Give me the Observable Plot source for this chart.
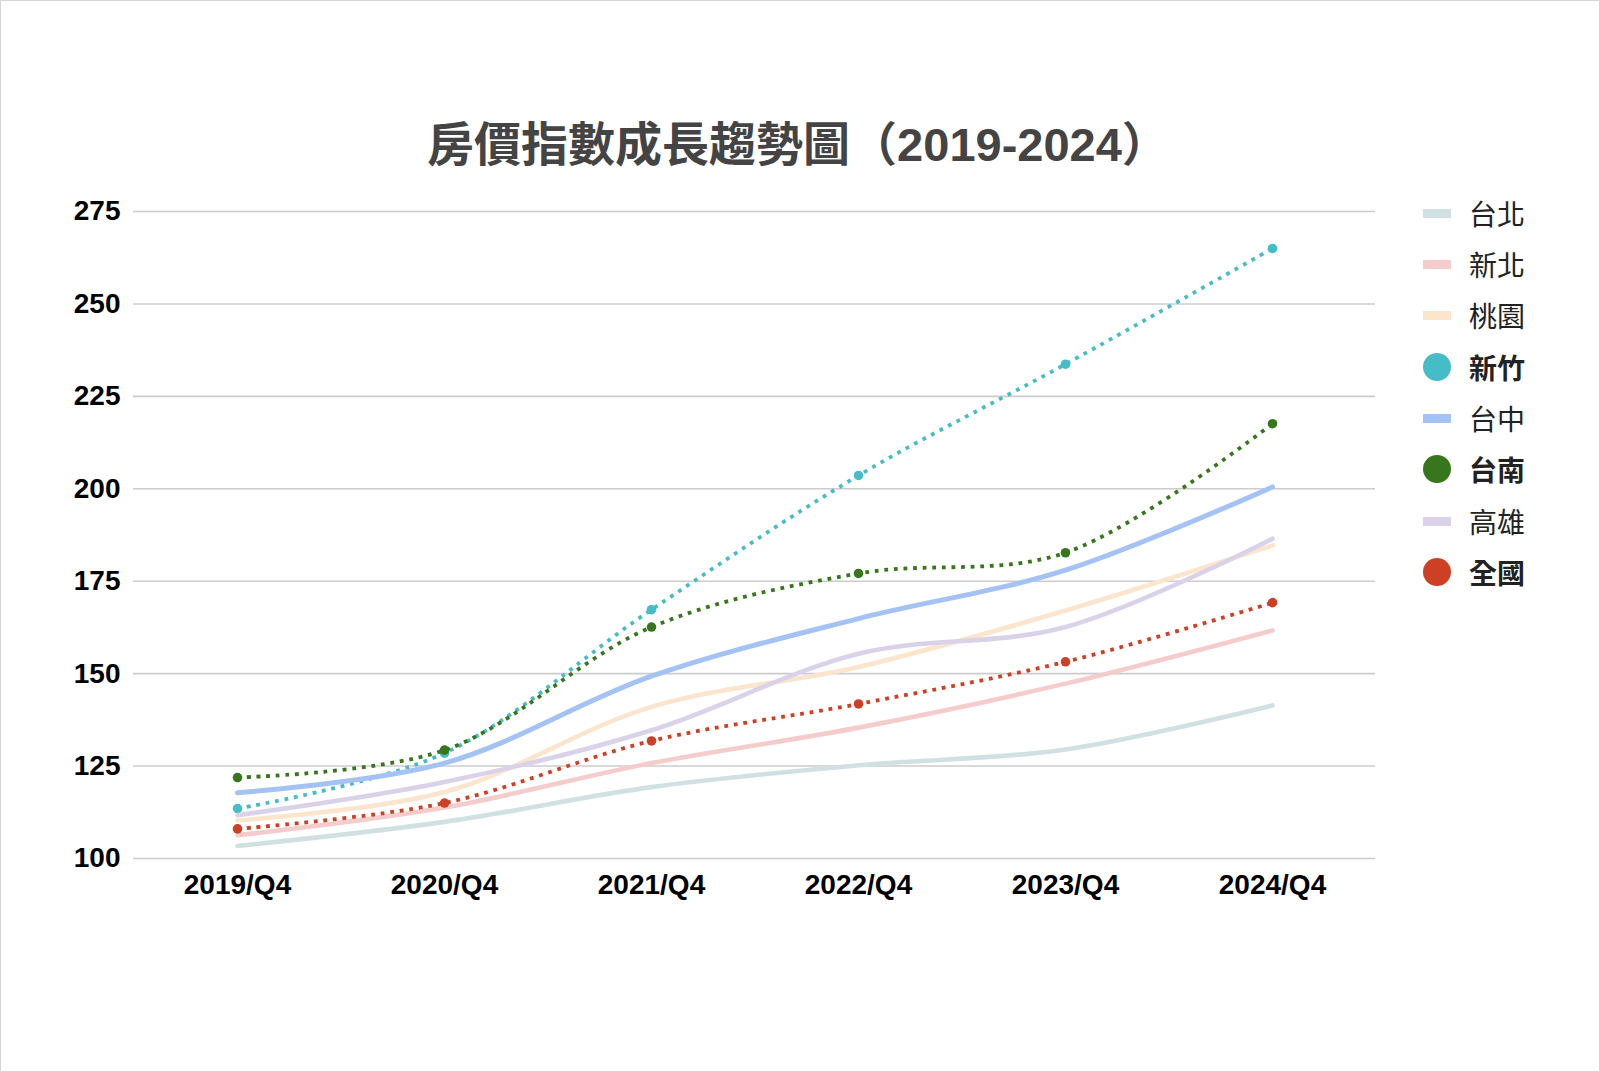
<!DOCTYPE html>
<html><head><meta charset="utf-8">
<script src="https://cdn.jsdelivr.net/npm/d3@7"></script>
<script src="https://cdn.jsdelivr.net/npm/@observablehq/plot@0.6"></script>
<style>
body{margin:0;background:#fff;}
#page{position:relative;width:1598px;height:1070px;border:1px solid #d6d6d6;overflow:hidden;background:#fff;font-family:"Liberation Sans",Arial,"Noto Sans CJK TC",sans-serif;}
#title{position:absolute;left:10px;width:1574px;top:116px;text-align:center;font-size:47px;font-weight:bold;color:#444;line-height:56px;}
#chart{position:absolute;left:-1px;top:179px;}
#legend{position:absolute;left:1422px;top:-2px;}
.item{position:absolute;left:0;height:40px;display:flex;align-items:center;white-space:nowrap;font-size:28px;color:#222;}
.sw-line{width:28px;height:9px;margin-right:18px;margin-left:0;}
.sw-dot{width:28px;height:28px;border-radius:50%;margin-right:18px;}
</style>
</head><body>
<div id="page">
  <div id="title">房價指數成長趨勢圖（2019-2024）</div>
  <div id="chart"></div>
  <div id="legend"></div>
</div>
<script>
const quarters = ["2019/Q4","2020/Q4","2021/Q4","2022/Q4","2023/Q4","2024/Q4"];
const yTicks = [100,125,150,175,200,225,250,275];
const taipei    = [103.4, 109.9, 119.3, 125.2, 129.5, 141.4];
const newTaipei = [106.3, 113.8, 125.8, 135.4, 147.3, 161.7];
const taoyuan   = [110.3, 118.0, 141.0, 151.8, 167.1, 184.7];
const hsinchu   = [113.5, 128.5, 167.3, 203.6, 233.7, 265.0];
const taichung  = [117.8, 125.8, 149.3, 164.9, 178.0, 200.5];
const tainan    = [121.9, 129.3, 162.6, 177.1, 182.7, 217.6];
const kaohsiung = [111.7, 120.7, 134.7, 155.4, 162.6, 186.5];
const national  = [108.0, 115.0, 131.8, 141.8, 153.2, 169.2];

const seriesNames = ["台北","新北","桃園","新竹","台中","台南","高雄","全國"];
const seriesValues = [taipei,newTaipei,taoyuan,hsinchu,taichung,tainan,kaohsiung,national];
const seriesColors = ["#d0e0e3","#f4cccc","#fce5cd","#46bdc6","#a4c2f4","#38761d","#d9d2e9","#cc4125"];
const seriesDotted = [false,false,false,true,false,true,false,true];

const rows = seriesNames.flatMap((s,si)=>quarters.map((q,i)=>({series:s,q,v:seriesValues[si][i]})));

const marks = [Plot.ruleY(yTicks,{stroke:"#cccccc",strokeWidth:1.6})];
seriesNames.forEach((s,si)=>{
  const data = rows.filter(d=>d.series===s);
  if (seriesDotted[si]) {
    marks.push(Plot.line(data,{x:"q",y:"v",stroke:seriesColors[si],strokeWidth:3.8,strokeDasharray:"3.8,5.8",strokeLinecap:"butt",curve:"catmull-rom"}));
    marks.push(Plot.dot(data,{x:"q",y:"v",r:4.8,fill:seriesColors[si],stroke:"none"}));
  } else {
    marks.push(Plot.line(data,{x:"q",y:"v",stroke:seriesColors[si],strokeWidth:s==="台中"?5:4.6,curve:"catmull-rom"}));
  }
});

const chart = Plot.plot({
  width:1400, height:740,
  marginLeft:133, marginRight:25, marginTop:31, marginBottom:62,
  x:{type:"point",domain:quarters,padding:0.5,label:null,tickSize:0,tickPadding:16},
  y:{domain:[100,275],ticks:yTicks,label:null,tickSize:0,tickPadding:13},
  style:{fontSize:"28px",fontWeight:"bold",fontFamily:"'Liberation Sans',Arial,sans-serif",color:"#000",background:"transparent"},
  marks
});
document.getElementById("chart").appendChild(chart);

const legend = document.getElementById("legend");
const legendTops = [214,265,316,368,419,470,522,573];
seriesNames.forEach((s,si)=>{
  const it = document.createElement("div");
  it.className="item";
  it.style.top=(legendTops[si]-20)+"px";
  const sw = document.createElement("div");
  sw.className = seriesDotted[si] ? "sw-dot" : "sw-line";
  sw.style.background = seriesColors[si];
  it.appendChild(sw);
  const t = document.createElement("span");
  t.textContent = s;
  if (seriesDotted[si]) t.style.fontWeight="bold";
  it.appendChild(t);
  legend.appendChild(it);
});
</script>
</body></html>
